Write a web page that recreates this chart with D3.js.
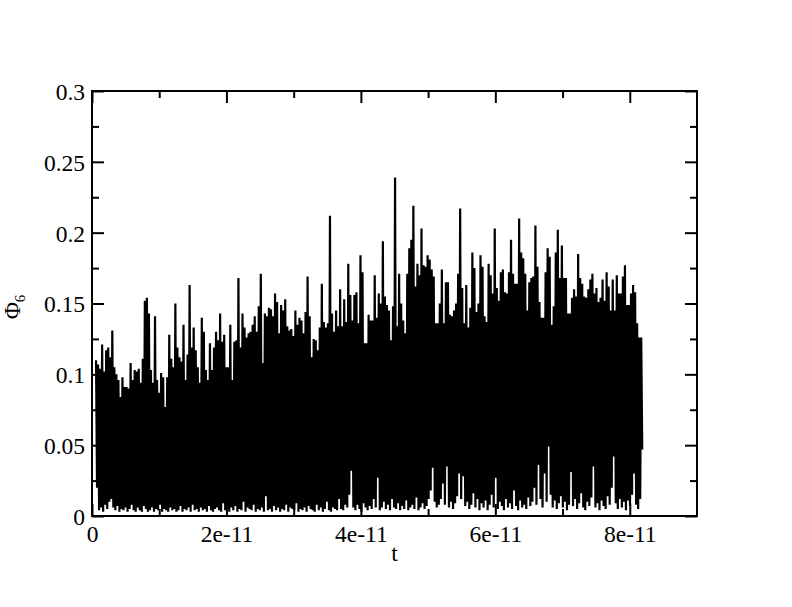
<!DOCTYPE html>
<html>
<head>
  <title>Phi6 vs t</title>
  <script src="https://d3js.org/d3.v7.min.js"></script>
  <style>
    body { margin: 0; background: #fff; }
    svg text { font-family: "Liberation Serif", "Times New Roman", serif; fill: #000; }
  </style>
</head>
<body>
  <div id="chart"></div>
  <script>

const width = 792;
const height = 607;
const margin = { top: 91, right: 95, bottom: 91, left: 92 };

// peak values of Phi6 along the run (left to right)
const phiHigh = [
  0.110,0.107,0.104,0.121,0.102,0.117,0.119,0.112,0.131,0.105,
  0.100,0.096,0.084,0.098,0.091,0.091,0.090,0.108,0.096,0.103,
  0.102,0.104,0.094,0.111,0.152,0.154,0.143,0.103,0.094,0.141,
  0.096,0.087,0.101,0.098,0.077,0.098,0.128,0.111,0.105,0.150,
  0.119,0.112,0.109,0.135,0.096,0.114,0.163,0.119,0.133,0.117,
  0.105,0.094,0.140,0.130,0.103,0.096,0.122,0.103,0.119,0.130,
  0.124,0.143,0.123,0.128,0.105,0.105,0.135,0.096,0.123,0.124,
  0.168,0.119,0.143,0.133,0.126,0.129,0.130,0.135,0.141,0.130,
  0.148,0.171,0.108,0.143,0.141,0.147,
  0.146,0.141,0.157,0.151,0.129,0.149,0.145,0.153,0.134,0.131,
  0.132,0.127,0.145,0.135,0.140,0.138,0.129,0.144,0.169,0.141,
  0.112,0.125,0.124,0.117,0.133,0.164,0.137,0.133,0.136,0.212,
  0.143,0.130,0.145,0.134,0.160,0.134,0.153,0.137,0.178,0.156,
  0.138,0.156,0.158,0.136,0.184,0.172,0.122,0.122,0.142,0.138,
  0.138,0.170,0.140,0.157,0.150,0.194,0.155,0.149,0.145,0.124,
  0.148,0.239,0.134,0.171,0.150,0.138,0.129,0.171,0.189,0.195,
  0.219,0.162,0.178,0.170,0.203,0.177,0.176,0.184,0.181,0.174,
  0.169,0.136,0.136,0.150,0.174,0.136,0.165,0.165,0.142,0.141,
  0.145,0.150,0.171,
  0.217,0.161,0.136,0.163,0.133,0.147,0.186,0.175,0.144,0.150,
  0.184,0.176,0.141,0.137,0.178,0.170,0.157,0.203,0.161,0.152,
  0.172,0.174,0.158,0.157,0.172,0.195,0.171,0.164,0.164,0.210,
  0.186,0.182,0.171,0.145,0.165,0.168,0.169,0.205,0.176,0.151,
  0.140,0.140,0.172,0.189,0.183,0.135,0.148,0.186,0.202,0.168,
  0.191,0.168,0.168,0.143,0.143,0.154,0.160,0.155,0.185,0.168,
  0.164,0.155,0.154,0.160,0.167,0.171,0.157,0.161,0.151,0.154,
  0.167,0.152,0.172,0.162,0.145,0.167,0.145,0.170,0.157,0.157,
  0.169,0.177,0.149,0.149,0.157,0.163,0.158,0.136,0.126,0.126
];

// trough values between the peaks
const phiLow = [
  0.020,0.004,0.006,0.003,0.008,0.005,0.010,0.012,0.006,0.004,
  0.007,0.003,0.005,0.004,0.006,0.003,0.005,0.008,0.004,0.003,
  0.006,0.004,0.003,0.007,0.005,0.003,0.004,0.006,0.003,0.005,
  0.004,0.008,0.003,0.005,0.004,0.003,0.006,0.004,0.005,0.003,
  0.004,0.007,0.003,0.005,0.004,0.006,0.003,0.008,0.004,0.005,
  0.003,0.006,0.004,0.005,0.003,0.007,0.004,0.003,0.005,0.006,
  0.004,0.003,0.009,0.004,0.005,0.003,0.006,0.004,0.007,0.003,
  0.005,0.004,0.010,0.003,0.006,0.005,0.004,0.008,0.003,0.005,
  0.004,0.006,0.003,0.014,0.004,0.005,0.003,0.007,0.004,0.006,
  0.003,0.005,0.004,0.008,0.003,0.006,0.005,0.004,0.009,0.003,
  0.005,0.004,0.006,0.003,0.007,0.005,0.004,0.003,0.008,0.004,
  0.006,0.003,0.005,0.010,0.004,0.003,0.006,0.005,0.004,0.012,
  0.005,0.004,0.008,0.006,0.015,0.032,0.006,0.004,0.008,0.005,
  0.003,0.009,0.006,0.004,0.007,0.005,0.012,0.006,0.027,0.004,
  0.006,0.010,0.005,0.008,0.004,0.012,0.006,0.005,0.009,0.004,
  0.007,0.005,0.011,0.004,0.006,0.008,0.005,0.013,0.004,0.006,
  0.009,0.005,0.007,0.012,0.018,0.034,0.010,0.006,0.008,0.012,
  0.023,0.008,0.035,0.006,0.010,0.005,0.009,0.014,0.030,0.012,
  0.028,0.007,0.010,0.005,0.008,0.016,0.006,0.012,0.004,0.009,
  0.006,0.011,0.004,0.008,0.015,0.006,0.027,0.005,0.010,0.007,
  0.004,0.012,0.006,0.009,0.005,0.018,0.007,0.004,0.011,0.006,
  0.008,0.005,0.013,0.007,0.010,0.020,0.008,0.036,0.012,0.006,
  0.030,0.010,0.049,0.015,0.006,0.011,0.005,0.009,0.014,0.006,
  0.010,0.004,0.008,0.031,0.007,0.012,0.005,0.009,0.016,0.006,
  0.004,0.010,0.007,0.013,0.035,0.006,0.009,0.004,0.011,0.007,
  0.005,0.014,0.008,0.020,0.042,0.009,0.005,0.012,0.006,0.010,
  0.004,0.011,0.007,0.015,0.030,0.008,0.005,0.012,0.047
];

// time span of the record (s)
const tStart = 0.06e-11;
const tStop = 8.17e-11;

const xTicks = [0, 2e-11, 4e-11, 6e-11, 8e-11];
const xTickLabels = ["0", "2e-11", "4e-11", "6e-11", "8e-11"];
const xMinor = [1e-11, 3e-11, 5e-11, 7e-11];
const yTicks = [0, 0.05, 0.1, 0.15, 0.2, 0.25, 0.3];
const yTickLabels = ["0", "0.05", "0.1", "0.15", "0.2", "0.25", "0.3"];
const yMinor = [0.025, 0.075, 0.125, 0.175, 0.225, 0.275];

const dt = (tStop - tStart) / (phiHigh.length - 1);
const points = [];
phiHigh.forEach((h, i) => {
  const t = tStart + i * dt;
  points.push([t, h]);
  points.push([t + dt / 2, phiLow[i]]);
});

const svg = d3.select('#chart')
  .append('svg')
  .attr('width', width)
  .attr('height', height);

const x = d3.scaleLinear()
  .domain([0, 9e-11])
  .range([margin.left, width - margin.right]);

const y = d3.scaleLinear()
  .domain([0, 0.3])
  .range([height - margin.bottom, margin.top]);

// the data line
svg.append("path")
  .datum(points)
  .attr("fill", "none")
  .attr("stroke", "#000")
  .attr("stroke-width", 2.2)
  .attr("stroke-linejoin", "bevel")
  .attr("d", d3.line().x(d => x(d[0])).y(d => y(d[1])));

const fontSize = "23.5px";

function tidy(g) {
  g.select(".domain").remove();
  g.selectAll(".tick line").attr("stroke-width", 2);
}

// bottom axis
svg.append("g")
  .attr("transform", `translate(0,${y(0)})`)
  .call(d3.axisBottom(x).tickValues(xTicks).tickSize(-12)
    .tickFormat((d, i) => xTickLabels[i]))
  .call(tidy)
  .call(g => g.selectAll("text").attr("y", 26).attr("dy", null)
    .attr("font-size", fontSize));
svg.append("g")
  .attr("transform", `translate(0,${y(0)})`)
  .call(d3.axisBottom(x).tickValues(xMinor).tickSize(-7).tickFormat(""))
  .call(tidy);

// top axis (mirror)
svg.append("g")
  .attr("transform", `translate(0,${y(0.3)})`)
  .call(d3.axisTop(x).tickValues(xTicks).tickSize(-12).tickFormat(""))
  .call(tidy);
svg.append("g")
  .attr("transform", `translate(0,${y(0.3)})`)
  .call(d3.axisTop(x).tickValues(xMinor).tickSize(-7).tickFormat(""))
  .call(tidy);

// left axis
svg.append("g")
  .attr("transform", `translate(${x(0)},0)`)
  .call(d3.axisLeft(y).tickValues(yTicks).tickSize(-12)
    .tickFormat((d, i) => yTickLabels[i]))
  .call(tidy)
  .call(g => g.selectAll("text").attr("x", -7).attr("dy", "0.36em")
    .attr("font-size", fontSize));
svg.append("g")
  .attr("transform", `translate(${x(0)},0)`)
  .call(d3.axisLeft(y).tickValues(yMinor).tickSize(-7).tickFormat(""))
  .call(tidy);

// right axis (mirror)
svg.append("g")
  .attr("transform", `translate(${x(9e-11)},0)`)
  .call(d3.axisRight(y).tickValues(yTicks).tickSize(-12).tickFormat(""))
  .call(tidy);
svg.append("g")
  .attr("transform", `translate(${x(9e-11)},0)`)
  .call(d3.axisRight(y).tickValues(yMinor).tickSize(-7).tickFormat(""))
  .call(tidy);

// frame
svg.append("rect")
  .attr("x", x(0))
  .attr("y", y(0.3))
  .attr("width", x(9e-11) - x(0))
  .attr("height", y(0) - y(0.3))
  .attr("fill", "none")
  .attr("stroke", "#000")
  .attr("stroke-width", 2);

// axis titles
svg.append("text")
  .attr("x", (x(0) + x(9e-11)) / 2)
  .attr("y", 561)
  .attr("text-anchor", "middle")
  .attr("font-size", fontSize)
  .text("t");

const yTitle = svg.append("text")
  .attr("transform", "translate(20,307) rotate(-90)")
  .attr("text-anchor", "middle")
  .attr("font-size", fontSize);
yTitle.append("tspan").text("Φ");
yTitle.append("tspan").attr("dy", 5).attr("font-size", "15px").text("6");

  </script>
</body>
</html>
